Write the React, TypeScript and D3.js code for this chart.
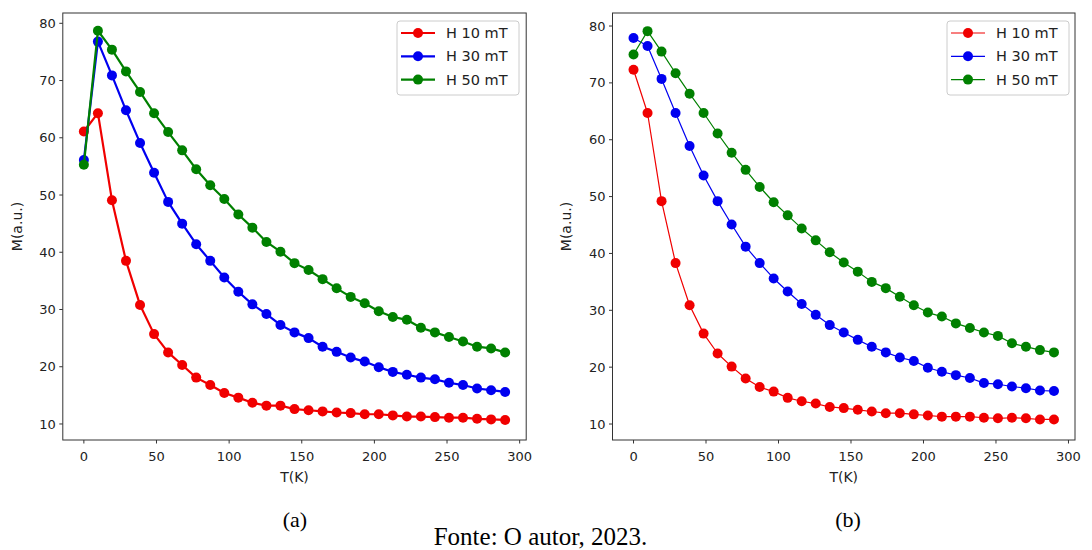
import React from "react";
import * as d3 from "d3";

// Temperature grid (K) shared by all series
const temps = [0, 9.67, 19.33, 29, 38.67, 48.33, 58, 67.67, 77.33, 87, 96.67, 106.33, 116, 125.67, 135.33, 145, 154.67, 164.33, 174, 183.67, 193.33, 203, 212.67, 222.33, 232, 241.67, 251.33, 261, 270.67, 280.33, 290];

// Panel (a)
const aH10 = [61.1, 64.3, 49.1, 38.5, 30.8, 25.7, 22.5, 20.3, 18.1, 16.8, 15.4, 14.6, 13.7, 13.2, 13.2, 12.6, 12.4, 12.2, 12.0, 11.9, 11.7, 11.7, 11.5, 11.3, 11.3, 11.2, 11.1, 11.1, 10.9, 10.8, 10.7];
const aH30 = [56.1, 76.8, 70.9, 64.8, 59.1, 53.9, 48.8, 45.0, 41.4, 38.5, 35.6, 33.1, 30.9, 29.2, 27.3, 26.0, 25.0, 23.5, 22.6, 21.6, 20.9, 19.9, 19.1, 18.6, 18.1, 17.8, 17.2, 16.8, 16.2, 15.9, 15.6];
const aH50 = [55.3, 78.7, 75.4, 71.6, 68.0, 64.3, 61.0, 57.8, 54.5, 51.7, 49.3, 46.6, 44.3, 41.8, 40.1, 38.1, 36.9, 35.3, 33.7, 32.2, 31.1, 29.7, 28.7, 28.2, 26.8, 26.0, 25.2, 24.4, 23.5, 23.2, 22.5];

// Panel (b)
const bH10 = [72.3, 64.7, 49.2, 38.3, 30.9, 25.9, 22.4, 20.1, 18.0, 16.5, 15.7, 14.6, 14.0, 13.6, 13.0, 12.8, 12.5, 12.2, 11.9, 11.9, 11.7, 11.5, 11.3, 11.3, 11.3, 11.1, 11.0, 11.1, 11.0, 10.8, 10.8];
const bH30 = [77.9, 76.5, 70.7, 64.7, 58.9, 53.7, 49.2, 45.1, 41.2, 38.3, 35.6, 33.3, 31.1, 29.2, 27.4, 26.1, 24.8, 23.6, 22.6, 21.7, 21.1, 19.9, 19.2, 18.6, 18.1, 17.2, 17.0, 16.6, 16.3, 15.9, 15.8];
const bH50 = [75.0, 79.1, 75.5, 71.7, 68.1, 64.7, 61.1, 57.7, 54.7, 51.7, 49.0, 46.7, 44.4, 42.3, 40.2, 38.4, 36.8, 35.0, 33.9, 32.4, 30.9, 29.6, 28.9, 27.7, 26.9, 26.1, 25.5, 24.2, 23.6, 23.0, 22.6];

const seriesNames = ["H 10 mT", "H 30 mT", "H 50 mT"];
const seriesColors = ["#f00000", "#0000f0", "#008000"];
const xTicks = [0, 50, 100, 150, 200, 250, 300];
const yTicks = [10, 20, 30, 40, 50, 60, 70, 80];
const xLabel = "T(K)";
const yLabel = "M(a.u.)";
const captionA = "(a)";
const captionB = "(b)";
const source = "Fonte: O autor, 2023.";

const FONT = "DejaVu Sans, sans-serif";

type PanelProps = {
  left: number;
  right: number;
  top: number;
  bottom: number;
  yDomain: [number, number];
  series: number[][];
  lineWidth: number;
  legendX: number;
  legendW: number;
  yLabelX: number;
};

function Panel(p: PanelProps) {
  const x = d3.scaleLinear().domain([-14.5, 304.5]).range([p.left, p.right]);
  const y = d3.scaleLinear().domain(p.yDomain).range([p.bottom, p.top]);
  const line = d3
    .line<number>()
    .x((_, i) => x(temps[i]))
    .y((d) => y(d));
  const cx = (p.left + p.right) / 2;
  const cy = (p.top + p.bottom) / 2;
  const legY = p.top + 8;
  const rowH = 23.3;
  const r = 5;
  return (
    <g>
      {p.series.map((s, si) => (
        <g key={si}>
          <path d={line(s) || ""} fill="none" stroke={seriesColors[si]} strokeWidth={p.lineWidth} strokeLinejoin="round" />
          {s.map((v, i) => (
            <circle key={i} cx={x(temps[i])} cy={y(v)} r={r} fill={seriesColors[si]} />
          ))}
        </g>
      ))}
      <rect x={p.left} y={p.top} width={p.right - p.left} height={p.bottom - p.top} fill="none" stroke="#333" strokeWidth={1} />
      {xTicks.map((t) => (
        <g key={t}>
          <line x1={x(t)} x2={x(t)} y1={p.bottom} y2={p.bottom + 3.5} stroke="#333" />
          <text x={x(t)} y={p.bottom + 21} textAnchor="middle" fontSize={13} fontFamily={FONT} fill="#222">
            {t}
          </text>
        </g>
      ))}
      {yTicks.map((t) => (
        <g key={t}>
          <line x1={p.left - 3.5} x2={p.left} y1={y(t)} y2={y(t)} stroke="#333" />
          <text x={p.left - 7} y={y(t) + 4.6} textAnchor="end" fontSize={13} fontFamily={FONT} fill="#222">
            {t}
          </text>
        </g>
      ))}
      <text x={cx} y={p.bottom + 42} textAnchor="middle" fontSize={14} fontFamily={FONT} fill="#222">
        {xLabel}
      </text>
      <text
        transform={`translate(${p.yLabelX},${cy}) rotate(-90)`}
        textAnchor="middle"
        fontSize={14}
        fontFamily={FONT}
        fill="#222"
      >
        {yLabel}
      </text>
      <rect x={p.legendX} y={legY} width={p.legendW} height={74} rx={3} fill="#fff" fillOpacity={0.8} stroke="#cccccc" />
      {seriesNames.map((n, si) => {
        const ry = legY + 12 + si * rowH;
        return (
          <g key={n}>
            <line x1={p.legendX + 4} x2={p.legendX + 38} y1={ry} y2={ry} stroke={seriesColors[si]} strokeWidth={p.lineWidth} />
            <circle cx={p.legendX + 21} cy={ry} r={r} fill={seriesColors[si]} />
            <text x={p.legendX + 49} y={ry + 5} fontSize={14.5} fontFamily={FONT} fill="#222">
              {n}
            </text>
          </g>
        );
      })}
    </g>
  );
}

export default function App() {
  return (
    <svg
      width={1092}
      height={550}
      style={{ position: "absolute", left: 0, top: 0, background: "#fff" }}
    >
      <rect x={0} y={0} width={1092} height={550} fill="#fff" />
      <Panel
        left={62.8}
        right={526.2}
        top={13}
        bottom={440}
        yDomain={[7.2, 81.8]}
        series={[aH10, aH30, aH50]}
        lineWidth={2.2}
        legendX={397}
        legendW={122}
        yLabelX={22}
      />
      <Panel
        left={612.5}
        right={1075}
        top={13}
        bottom={440}
        yDomain={[7.19, 82.29]}
        series={[bH10, bH30, bH50]}
        lineWidth={1.2}
        legendX={947}
        legendW={122}
        yLabelX={571}
      />
      <text x={295} y={527} textAnchor="middle" fontSize={22} fontFamily="Liberation Serif, Times New Roman, serif" fill="#000">
        {captionA}
      </text>
      <text x={848} y={527} textAnchor="middle" fontSize={22} fontFamily="Liberation Serif, Times New Roman, serif" fill="#000">
        {captionB}
      </text>
      <text x={540.5} y={545} textAnchor="middle" fontSize={25} fontFamily="Liberation Serif, Times New Roman, serif" fill="#000">
        {source}
      </text>
    </svg>
  );
}
